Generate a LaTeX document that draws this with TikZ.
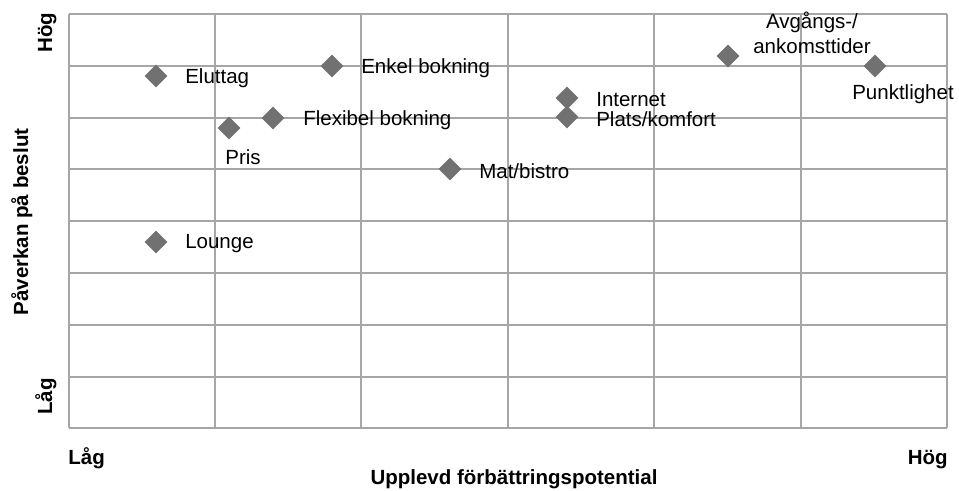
\documentclass[tikz,border=0pt]{standalone}
\usepackage{fontspec}
\setmainfont{Liberation Sans}
\usetikzlibrary{positioning,shapes.geometric}

\definecolor{gridgray}{HTML}{A6A6A6}
\definecolor{markgray}{HTML}{717171}

\tikzset{
  point/.style={diamond, fill=markgray, minimum size=11.5pt, inner sep=0pt},
  lbl/.style={font=\fontsize{10.25}{12.5}\selectfont, inner sep=0pt},
  sidelbl/.style={lbl, yshift=-1pt},
  axislbl/.style={font=\fontsize{10.25}{12.5}\selectfont\bfseries, inner sep=0pt},
  gridline/.style={draw=gridgray, line width=1pt}
}

\begin{document}
\begin{tikzpicture}[x=0.5pt, y=-0.5pt]
  \useasboundingbox (0,0) rectangle (959,491);

  % Grid
  \foreach \i in {0,...,6}
    \draw[gridline] (68.5+146.4*\i,14) -- (68.5+146.4*\i,428.3);
  \foreach \j in {0,...,8}
    \draw[gridline] (68.5,14+51.79*\j) -- (946.9,14+51.79*\j);

  % Define nodes
  \node[point] (eluttag) at (156,76) {};
  \node[point] (pris) at (229,128) {};
  \node[point] (flexibel) at (273,118) {};
  \node[point] (enkel) at (332,66) {};
  \node[point] (internet) at (567,98) {};
  \node[point] (plats) at (567,117) {};
  \node[point] (mat) at (450,169) {};
  \node[point] (avgang) at (728,56) {};
  \node[point] (punkt) at (875,66) {};
  \node[point] (lounge) at (156,242) {};

  % Labels
  \node[sidelbl, right=8.5pt of eluttag] {Eluttag};
  \node[lbl, below=4.5pt of pris, xshift=7pt] {Pris};
  \node[sidelbl, right=9pt of flexibel] {Flexibel bokning};
  \node[sidelbl, right=8.5pt of enkel] {Enkel bokning};
  \node[sidelbl, right=8.5pt of internet] {Internet};
  \node[sidelbl, right=8.5pt of plats] {Plats/komfort};
  \node[sidelbl, right=8.5pt of mat] {Mat/bistro};
  \node[lbl, align=center, right=6.5pt of avgang, yshift=11.5pt] {Avgångs-/\\ankomsttider};
  \node[lbl, below=3pt of punkt, xshift=14pt] {Punktlighet};
  \node[sidelbl, right=8.5pt of lounge] {Lounge};

  % Axes
  \node[axislbl, anchor=base west] (xlow) at (68,465) {Låg};
  \node[axislbl, anchor=base east] (xhigh) at (948,465) {Hög};
  \node[axislbl, anchor=base] (xtitle) at (514,485) {Upplevd förbättringspotential};
  \node[axislbl, rotate=90, anchor=base west] (ylow) at (52,415) {Låg};
  \node[axislbl, rotate=90, anchor=base west] (yhigh) at (52,53) {Hög};
  \node[axislbl, rotate=90, anchor=base] (ytitle) at (28,222) {Påverkan på beslut};
\end{tikzpicture}
\end{document}
